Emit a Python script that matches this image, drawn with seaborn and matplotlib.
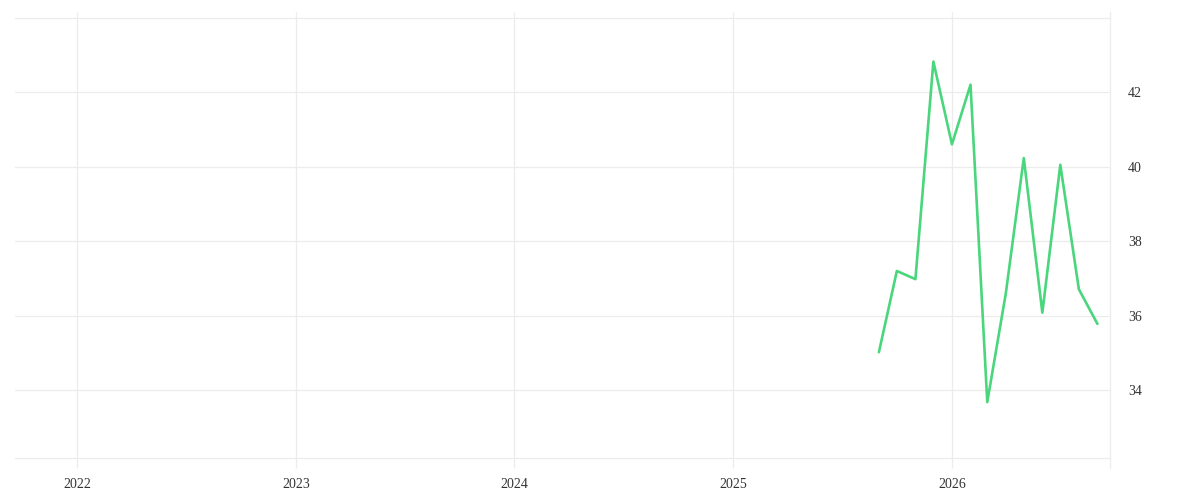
import matplotlib
matplotlib.use("Agg")
import matplotlib.pyplot as plt
import seaborn as sns
import pandas as pd

dates = ["2025-09-01", "2025-10-01", "2025-11-01", "2025-12-01", "2026-01-01",
         "2026-02-01", "2026-03-01", "2026-04-01", "2026-05-01", "2026-06-01",
         "2026-07-01", "2026-08-01", "2026-09-01"]
values = [35.02, 37.20, 36.98, 42.82, 40.60, 42.20, 33.68, 36.60, 40.23, 36.08,
          40.05, 36.71, 35.78]
y_ticks = [34, 36, 38, 40, 42]
x_ticks = ["2022-01-01", "2023-01-01", "2024-01-01", "2025-01-01", "2026-01-01"]
x_tick_labels = ["2022", "2023", "2024", "2025", "2026"]

df = pd.DataFrame({"date": pd.to_datetime(dates), "value": values})

sns.set_theme(style="white")
plt.rcParams["font.family"] = ["Liberation Serif", "DejaVu Serif"]

fig = plt.figure(figsize=(12, 5), dpi=100)
ax = fig.add_axes([15 / 1200, 42 / 500, 1095 / 1200, 440 / 500])

sns.lineplot(data=df, x="date", y="value", ax=ax, color="#4ad67c", linewidth=1.9)

y_lo, y_hi = 32.18, 43.99
ax.set_xlim(pd.Timestamp("2021-09-19"), pd.Timestamp("2026-09-22"))
ax.set_ylim(y_lo, y_hi)

ax.set_xticks(pd.to_datetime(x_ticks))
ax.set_xticklabels(x_tick_labels)
ax.set_yticks(y_ticks)
ax.set_yticklabels([str(v) for v in y_ticks])

ax.yaxis.tick_right()
grid_c = "#ececec"
ax.grid(True, color=grid_c, linewidth=0.9)
for side in ["top", "bottom", "right"]:
    ax.spines[side].set_visible(True)
    ax.spines[side].set_color(grid_c)
    ax.spines[side].set_linewidth(0.9)
ax.spines["left"].set_visible(False)
px_per_unit = 440 / (y_hi - y_lo)
ax.spines["right"].set_bounds(y_lo - 10 / px_per_unit, y_hi + 6 / px_per_unit)

ax.tick_params(axis="x", which="both", bottom=True, top=True, length=7.2,
               color=grid_c, width=0.9, labelsize=10, labelcolor="#333333", pad=7.5)
for t in ax.xaxis.get_major_ticks():
    t.tick2line.set_markersize(4.3)
ax.tick_params(axis="y", length=0, labelsize=10, labelcolor="#333333", pad=13)

ax.set_xlabel("")
ax.set_ylabel("")

fig.savefig("out.png", dpi=100)
